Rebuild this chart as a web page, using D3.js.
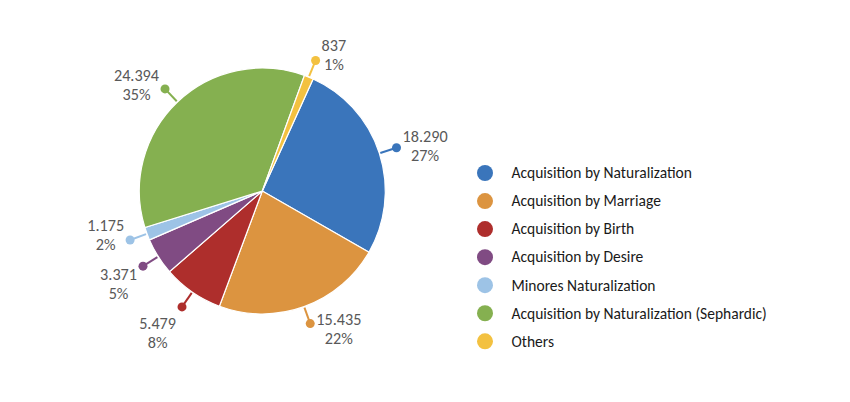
<!DOCTYPE html>
<html>
<head>
<meta charset="utf-8">
<script src="https://cdn.jsdelivr.net/npm/d3@7"></script>
<style>
  body { margin: 0; background: #fff; }
  svg { display: block; }
</style>
</head>
<body>
<script>
// nationality acquisitions, values
const categories = [
  'Acquisition by Naturalization',
  'Acquisition by Marriage',
  'Acquisition by Birth',
  'Acquisition by Desire',
  'Minores Naturalization',
  'Acquisition by Naturalization (Sephardic)',
  'Others'
];
const values = [18290, 15435, 5479, 3371, 1175, 24394, 837];
const colors = ['#3a75bb', '#dc9440', '#ae2e2c', '#804b83', '#9dc3e6', '#85b050', '#f3c140'];

const width = 850;
const height = 402;
const cx = 262.3;
const cy = 191;
const radius = 123;
const firstSlice = 24.4; // degrees, like excel "angle of first slice"
const font = 'Carlito, Calibri, Lato, sans-serif';
const lineH = 19;

const svg = d3.select('body').append('svg')
  .attr('width', width)
  .attr('height', height);

const total = d3.sum(values);
const locale = d3.formatLocale({ decimal: ',', thousands: '.', grouping: [3], currency: ['', ''] });
const fmt = locale.format(',d');

const data = categories.map((c, i) => ({ name: c, value: values[i], color: colors[i] }));

const start = firstSlice * Math.PI / 180;
const pie = d3.pie()
  .value(d => d.value)
  .sort(null)
  .startAngle(start)
  .endAngle(start + 2 * Math.PI);

const arc = d3.arc().innerRadius(0).outerRadius(radius);

const g = svg.append('g')
  .attr('transform', `translate(${cx}, ${cy})`);

const arcs = pie(data);

g.selectAll('path.slice')
  .data(arcs)
  .enter()
  .append('path')
  .attr('class', 'slice')
  .attr('d', arc)
  .attr('fill', d => d.data.color)
  .attr('stroke', '#fff')
  .attr('stroke-width', 1.2);

// leader lines with a dot at the end
const dotR = radius + 18;
const labels = [];
arcs.forEach((d) => {
  const a = (d.startAngle + d.endAngle) / 2;
  const dx = Math.sin(a);
  const dy = -Math.cos(a);
  g.append('line')
    .attr('x1', dx * (radius + 1))
    .attr('y1', dy * (radius + 1))
    .attr('x2', dx * dotR)
    .attr('y2', dy * dotR)
    .attr('stroke', d.data.color)
    .attr('stroke-width', 2);
  g.append('circle')
    .attr('cx', dx * dotR)
    .attr('cy', dy * dotR)
    .attr('r', 4.5)
    .attr('fill', d.data.color);

  const label = g.append('text')
    .attr('font-family', font)
    .attr('font-size', 16.2)
    .attr('fill', '#595959')
    .attr('text-anchor', 'middle');
  const l1 = label.append('tspan').text(fmt(d.data.value));
  const l2 = label.append('tspan').text(Math.round(d.data.value / total * 100) + '%');
  const hw = Math.max(l1.node().getComputedTextLength(), l2.node().getComputedTextLength()) / 2;
  labels.push({
    l1, l2,
    side: Math.sign(dx),
    x: dx * dotR + Math.sign(dx) * (hw + 6),
    y: dy * dotR + dy * 6
  });
});

// push overlapping labels apart on each side (mostly downwards)
const gap = 2 * lineH + 11;
[-1, 1].forEach((side) => {
  const list = labels.filter(l => l.side === side).sort((a, b) => a.y - b.y);
  for (let it = 0; it < 60; it++) {
    for (let i = 1; i < list.length; i++) {
      const over = gap - (list[i].y - list[i - 1].y);
      if (over > 0) {
        list[i - 1].y -= over * 0.25;
        list[i].y += over * 0.75;
      }
    }
  }
});

labels.forEach((l) => {
  l.l1.attr('x', l.x).attr('y', l.y - lineH / 2 + 5.5);
  l.l2.attr('x', l.x).attr('y', l.y + lineH / 2 + 5.5);
});

// legend
const legend = svg.append('g')
  .attr('transform', 'translate(485, 173)');

const rows = legend.selectAll('g')
  .data(data)
  .enter()
  .append('g')
  .attr('transform', (d, i) => `translate(0, ${i * 28.05})`);

rows.append('circle')
  .attr('r', 8)
  .attr('fill', d => d.color);

rows.append('text')
  .attr('x', 26.5)
  .attr('y', 5.3)
  .attr('font-family', font)
  .attr('font-size', 15.5)
  .attr('fill', '#1a1a1a')
  .text(d => d.name);
</script>
</body>
</html>
